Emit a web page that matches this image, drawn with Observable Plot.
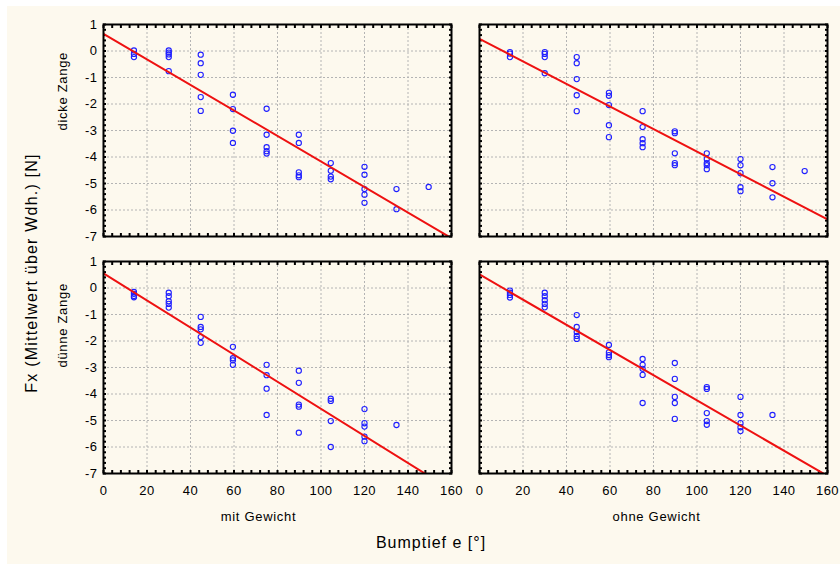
<!DOCTYPE html>
<html>
<head>
<meta charset="utf-8">
<script src="https://cdn.jsdelivr.net/npm/d3@7"></script>
<script src="https://cdn.jsdelivr.net/npm/@observablehq/plot@0.6"></script>
<style>
  body { margin: 0; background: #ffffff; font-family: "Liberation Sans", Arial, sans-serif; }
  #wrap { position: relative; width: 840px; height: 564px; overflow: hidden; }
  #bg { position: absolute; left: 7px; top: 6px; right: 0; bottom: 0; background: #fdf9ee; }
  #chart { position: absolute; left: 0; top: 0; }
  .ttl { position: absolute; font-size: 16px; color: #000; white-space: nowrap; line-height: 18px; }
  #xt { left: 431px; top: 543px; transform: translate(-50%, -50%); letter-spacing: 1px; }
  #yt { left: 32px; top: 273px; transform: translate(-50%, -50%) rotate(-90deg); letter-spacing: 1.2px; }
</style>
</head>
<body>
<div id="wrap">
  <div id="bg"></div>
  <div id="chart"></div>
  <div class="ttl" id="xt">Bumptief e [°]</div>
  <div class="ttl" id="yt">Fx (Mittelwert über Wdh.) [N]</div>
</div>
<script>
// ---- data ----
const weights = ["mit Gewicht", "ohne Gewicht"];
const tongs = ["dicke Zange", "dünne Zange"];
const depths = [14, 30, 44.7, 59.5, 75, 89.8, 104.5, 120, 134.7, 149.5];
const xTicks = [0, 20, 40, 60, 80, 100, 120, 140, 160];
const yTicks = [-7, -6, -5, -4, -3, -2, -1, 0, 1];

// values per depth column (same order as depths)
const dickeMit = [
  [0.02, -0.11, -0.23],
  [0.02, -0.06, -0.13, -0.23, -0.76],
  [-0.14, -0.46, -0.90, -1.74, -2.26],
  [-1.65, -2.19, -3.01, -3.47],
  [-2.18, -3.16, -3.63, -3.78, -3.87],
  [-3.16, -3.47, -4.58, -4.69, -4.76],
  [-4.23, -4.52, -4.74, -4.84],
  [-4.37, -4.67, -5.21, -5.42, -5.73],
  [-5.21, -5.97],
  [-5.13]
];
const dickeOhne = [
  [-0.04, -0.10, -0.23],
  [-0.04, -0.11, -0.23, -0.84],
  [-0.23, -0.46, -1.06, -1.67, -2.27],
  [-1.58, -1.69, -2.04, -2.80, -3.25],
  [-2.27, -2.87, -3.33, -3.48, -3.63],
  [-3.03, -3.10, -3.86, -4.23, -4.31],
  [-3.86, -4.08, -4.23, -4.31, -4.46],
  [-4.08, -4.31, -4.61, -5.14, -5.29],
  [-4.38, -4.99, -5.52],
  [-4.53]
];
const duenneMit = [
  [-0.15, -0.22, -0.30, -0.35],
  [-0.18, -0.31, -0.50, -0.60, -0.74],
  [-1.09, -1.47, -1.56, -1.85, -2.07],
  [-2.22, -2.65, -2.73, -2.90],
  [-2.90, -3.29, -3.80, -4.79],
  [-3.12, -3.58, -4.40, -4.48, -5.46],
  [-4.18, -4.26, -5.02, -6.00],
  [-4.57, -5.10, -5.23, -5.61, -5.78],
  [-5.17]
];
const duenneOhne = [
  [-0.10, -0.18, -0.26, -0.36],
  [-0.18, -0.31, -0.46, -0.60, -0.73],
  [-1.02, -1.47, -1.66, -1.81, -1.92],
  [-2.15, -2.43, -2.53, -2.61],
  [-2.68, -2.90, -3.05, -3.28, -4.34],
  [-2.83, -3.43, -4.11, -4.34, -4.94],
  [-3.74, -3.81, -4.72, -5.02, -5.16],
  [-4.11, -4.79, -5.10, -5.25, -5.40],
  [-4.79]
];
// fitted lines per panel: [tong, weight, intercept, slope]
const fits = [
  ["dicke Zange", "mit Gewicht", 0.65, -0.0482],
  ["dicke Zange", "ohne Gewicht", 0.46, -0.0426],
  ["dünne Zange", "mit Gewicht", 0.55, -0.0511],
  ["dünne Zange", "ohne Gewicht", 0.51, -0.0475]
];

// ---- build tables ----
const panels = [
  ["dicke Zange", "mit Gewicht", dickeMit],
  ["dicke Zange", "ohne Gewicht", dickeOhne],
  ["dünne Zange", "mit Gewicht", duenneMit],
  ["dünne Zange", "ohne Gewicht", duenneOhne]
];
const points = [];
for (const [tong, weight, cols] of panels) {
  cols.forEach((vals, i) => vals.forEach(v => points.push({tong, weight, x: depths[i], y: v})));
}
const xDomain = [xTicks[0], xTicks[xTicks.length - 1]];
const linePts = [];
for (const [tong, weight, a, b] of fits) {
  for (const x of xDomain) linePts.push({tong, weight, x, y: a + b * x});
}

const minorX = d3.range(0, 160.01, 4);
const minorY = d3.range(-7, 1.001, 0.2);
const font = "Liberation Sans, Arial, sans-serif";

const minorOpts = {tickSize: -3, strokeWidth: 2, fill: "none", label: null, facetAnchor: null};

const chart = Plot.plot({
  width: 840,
  height: 564,
  marginLeft: 103,
  marginRight: 12,
  marginTop: 24,
  marginBottom: 91,
  style: {background: "transparent", fontFamily: font, fontSize: "13px", color: "#000", letterSpacing: "0.5px"},
  fx: {domain: weights, padding: 0.0744, axis: null},
  fy: {domain: tongs, padding: 0.1055, axis: null},
  x: {domain: xDomain},
  y: {domain: [yTicks[0], yTicks[yTicks.length - 1]]},
  marks: [
    Plot.gridX(xTicks, {stroke: "#b4b4b4", strokeOpacity: 1, strokeDasharray: "2,2"}),
    Plot.gridY(yTicks, {stroke: "#b4b4b4", strokeOpacity: 1, strokeDasharray: "2,2"}),
    Plot.axisX({anchor: "bottom", ticks: xTicks, tickSize: 0, tickPadding: 12, tickFormat: d => String(d), label: null, fontSize: 13}),
    Plot.axisY({anchor: "left", ticks: yTicks, tickSize: 0, tickPadding: 6, tickFormat: d => String(d), label: null, fontSize: 13}),
    Plot.axisX({anchor: "bottom", ticks: minorX, ...minorOpts}),
    Plot.axisX({anchor: "top", ticks: minorX, ...minorOpts}),
    Plot.axisY({anchor: "left", ticks: minorY, ...minorOpts}),
    Plot.axisY({anchor: "right", ticks: minorY, ...minorOpts}),
    Plot.dot(points, {x: "x", y: "y", fx: "weight", fy: "tong", r: 2.6, stroke: "#1f1fff", strokeWidth: 1.1, fill: "none"}),
    Plot.line(linePts, {x: "x", y: "y", fx: "weight", fy: "tong", z: d => d.tong + d.weight, stroke: "#ee1111", strokeWidth: 2, clip: true}),
    Plot.frame({stroke: "#000", strokeWidth: 2}),
    Plot.text(tongs, {fy: d => d, fx: () => weights[0], text: d => d, frameAnchor: "left", dx: -41, rotate: -90, fontSize: 13, fill: "#000"}),
    Plot.text([weights[0]], {fx: d => d, fy: () => tongs[1], text: d => d, frameAnchor: "bottom", dy: 47, dx: -19, fontSize: 13, fill: "#000"}),
    Plot.text([weights[1]], {fx: d => d, fy: () => tongs[1], text: d => d, frameAnchor: "bottom", dy: 47, dx: 3, fontSize: 13, fill: "#000"})
  ]
});
d3.select(chart).selectAll('g[aria-label="text"] text').style("letter-spacing", "0.7px");
document.getElementById("chart").appendChild(chart);
</script>
</body>
</html>
